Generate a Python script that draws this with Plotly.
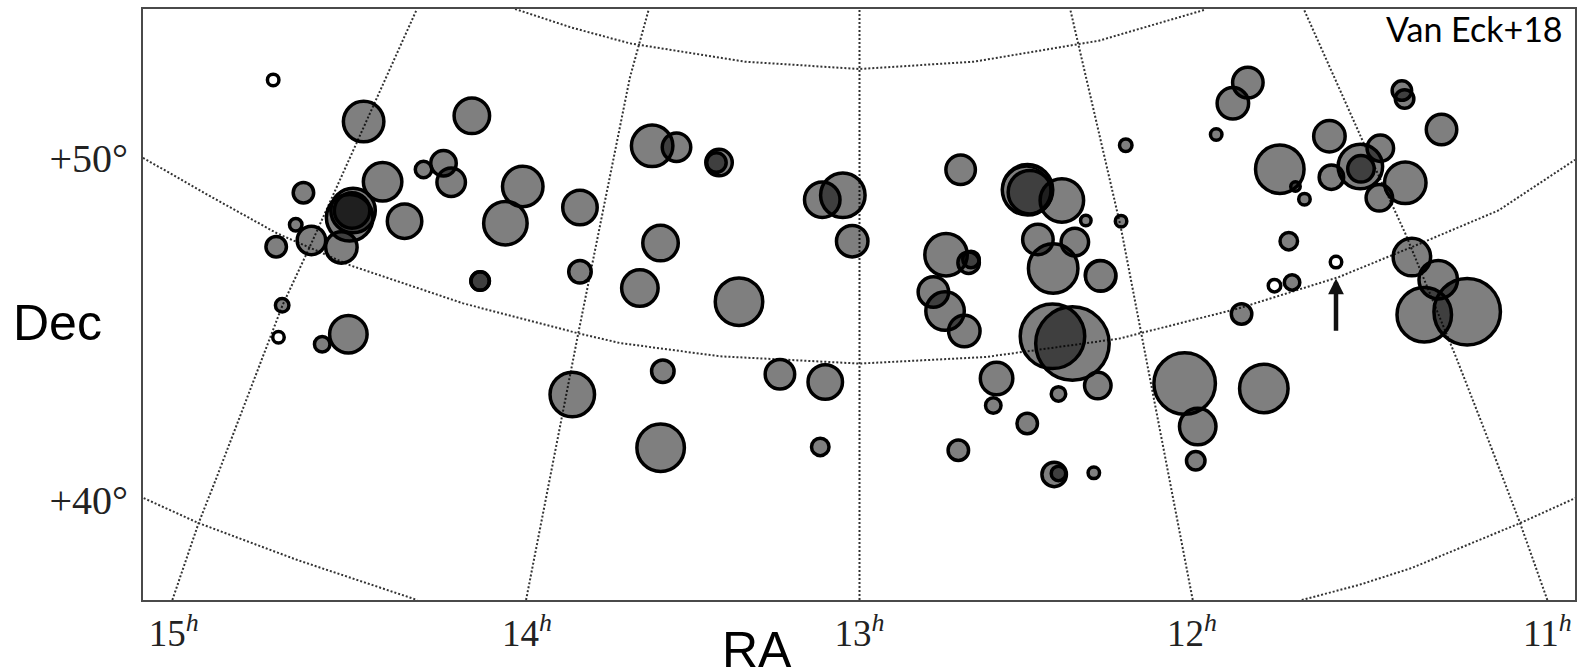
import plotly.graph_objects as go

# Projected sky-plane coordinates of the sources (map units) and their bubble radii
source_x = [363.3,471.7,382.3,423.3,443.3,451,522.7,580,505.3,404.3,303,295.3,275.7,311,341,349.3,352.7,351.7,
            480,480,580,281.7,348,321.8,572.3,660.8,663,
            652.3,676.7,719.3,716.7,660.7,640,739.3,822.7,843.3,852.7,961.3,1028.3,1030.7,1062.7,1086.7,
            1038.7,1075.7,1054,1101.7,946.7,969.3,971.7,934,945.7,965,1053.3,1073.3,997.3,1098.7,1059.3,994,1028,
            959,1055,1059.3,1094.7,780.3,825.7,820.7,
            1249,1234,1403.3,1406,1443,1330.7,1217.3,1126.7,1281,1296.7,1305.7,1332.7,1361.7,1381.7,1362.3,1406.7,
            1380.7,1122,1290,1293.3,1242.7,1413.3,1439.7,1425.7,1468.7,1185.7,1265,1198.8,1196.8]
source_y = [121,115.3,181.3,169,162.7,181.7,186,207,222.7,220.7,192.3,224.3,246.3,240,247,217.3,210,210,
            280.7,280.7,271.3,305,334,344,394.2,447.5,371,
            145.3,146.7,162,162,242.7,287.7,301.3,199.3,194.7,240.7,169.3,189.3,191.7,200,220,
            239,241.7,268,275.7,254.3,262.3,259,291.7,310.7,330.7,336,343.3,378.3,385.3,393.7,405.3,423.3,
            450,474.3,473.3,472.7,374,381.7,446.7,
            82,102.7,90,98.3,129,135.7,134,144.7,168.7,186,198.7,176.7,166,147.7,168.3,182.3,
            197.3,220.7,240.7,282,313.7,256.7,279.3,314.3,311.3,383.2,388.2,426.4,460.6]
source_radius = [22,19.5,21,10,14.5,16,22,19,23.5,19,12,8,12,16,17.5,25,24,19.5,
                 11,11,13,8.5,20.5,9.5,24,25.5,13,
                 22.5,16,15,11.5,19.5,20,25.5,19.5,24,17.5,16.5,27,23.5,23.5,7,
                 17,15.5,26.5,17,23,12.5,10,17,21,17.5,34,38.5,18,15,9,9.5,12,
                 12,14,9,7.5,16.5,19,10.5,
                 17,17.5,11.5,11,17,17.5,7.5,8,26,6.5,7.5,14,24,15,15,22.5,
                 15,7.5,10.5,9.5,12,20.5,21,29,35,32.5,26,20,11]

# Sources without a detection (open circles)
open_x = [272.7,278,1337.3,1275.7]
open_y = [79.3,337,261.7,285.3]
open_radius = [7.5,7.5,7.5,8]

# Extra unfilled outlines on top of filled sources
ring_x = [1027.3,1100.7]
ring_y = [190,274.7]
ring_radius = [25.5,17]

# Graticule
ra_lines = {
    "15h": ([171.7,198,215,282,310,375,416.7],[600,523,480,305,245,100,8.3]),
    "14h": ([526,578.3,630,649],[600,333,77,8.3]),
    "13h": ([860,860],[600,8.3]),
    "12h": ([1193.8,1146.7,1121.7,1100,1071],[600,358,226.7,133,8.3]),
    "11h": ([1549,1521.7,1490,1458,1406.7,1363,1305],[600,523,440,358,233,138,8.3]),
}
dec_lines = {
    "+60": ([515,572,630,745,860,975,1100,1205],[8.3,27,42.7,61,68.4,61,40,9.3]),
    "+50": ([142.3,210,276.7,350,463,578.3,620,720,860,986.7,1120,1240,1340,1410,1500,1576.7],
            [157.3,196,233,265,303,333,342.7,356,363.3,356.7,338.3,308,276.7,248,210,159.3]),
    "+40": ([143,198,297,360,417],[498,523,560,581,600]),
    "+40r": ([1303,1360,1413,1521.7,1577],[600,585,568,523,498]),
}
ra_ticks = [173,527,860,1193,1549]
ra_ticklabels = ["15<sup><i>h</i></sup>","14<sup><i>h</i></sup>","13<sup><i>h</i></sup>","12<sup><i>h</i></sup>","11<sup><i>h</i></sup>"]
dec_ticks = [157,500]
dec_ticklabels = ["+50°","+40°"]
LW = 3.5
fig = go.Figure()
for xs, ys in list(ra_lines.values()) + list(dec_lines.values()):
    fig.add_trace(go.Scatter(x=xs, y=ys, mode="lines", hoverinfo="skip", showlegend=False,
                             line=dict(color="#333", width=2, dash="2px,2px")))
fig.add_trace(go.Scatter(x=source_x, y=source_y, mode="markers", showlegend=False,
    marker=dict(size=[2*r-LW for r in source_radius], color="rgba(0,0,0,0.5)", opacity=1,
                line=dict(color="black", width=LW))))
fig.add_trace(go.Scatter(x=ring_x, y=ring_y, mode="markers", showlegend=False, hoverinfo="skip",
    marker=dict(size=[2*r-LW for r in ring_radius], color="rgba(0,0,0,0)", opacity=1,
                line=dict(color="black", width=2))))
fig.add_trace(go.Scatter(x=open_x, y=open_y, mode="markers", showlegend=False,
    marker=dict(size=[2*r-LW for r in open_radius], color="white", opacity=1,
                line=dict(color="black", width=LW))))
axis = dict(showgrid=False, zeroline=False, showline=True, mirror=True, linecolor="#4a4a4a", linewidth=2, ticks="")
fig.update_xaxes(range=[142.3,1576.7], tickmode="array", tickvals=ra_ticks, ticktext=ra_ticklabels,
                 tickfont=dict(family="Liberation Serif", size=37, color="#222"), **axis)
fig.update_yaxes(range=[600,8.3], tickmode="array", tickvals=dec_ticks, ticktext=dec_ticklabels,
                 tickfont=dict(family="Liberation Serif", size=40, color="#222"), ticklabelstandoff=5, **axis)
fig.update_layout(width=1577, height=671, margin=dict(l=143,r=0,t=9,b=71), paper_bgcolor="white", plot_bgcolor="white",
    annotations=[
        dict(text="RA", x=757, y=0, xref="x", yref="paper", yshift=-50, showarrow=False, yanchor="middle",
             font=dict(family="Liberation Sans", size=50, color="black")),
        dict(text="Dec", x=-0.0595, y=323, xref="paper", yref="y", xanchor="center", showarrow=False,
             font=dict(family="Liberation Sans", size=50, color="black")),
        dict(text="Van Eck+18", x=1567, y=28, xref="x", yref="y", xanchor="right", showarrow=False,
             font=dict(family="Lato", size=34, color="black")),
        dict(x=1337.3, y=278, ax=1337.3, ay=332, xref="x", yref="y", axref="x", ayref="y", text="", showarrow=True,
             arrowhead=2, arrowsize=0.7, arrowwidth=4.5, arrowcolor="#111"),
    ])
fig.write_html("out.html", config=dict(displayModeBar=False), post_script="document.body.style.margin='0';")
